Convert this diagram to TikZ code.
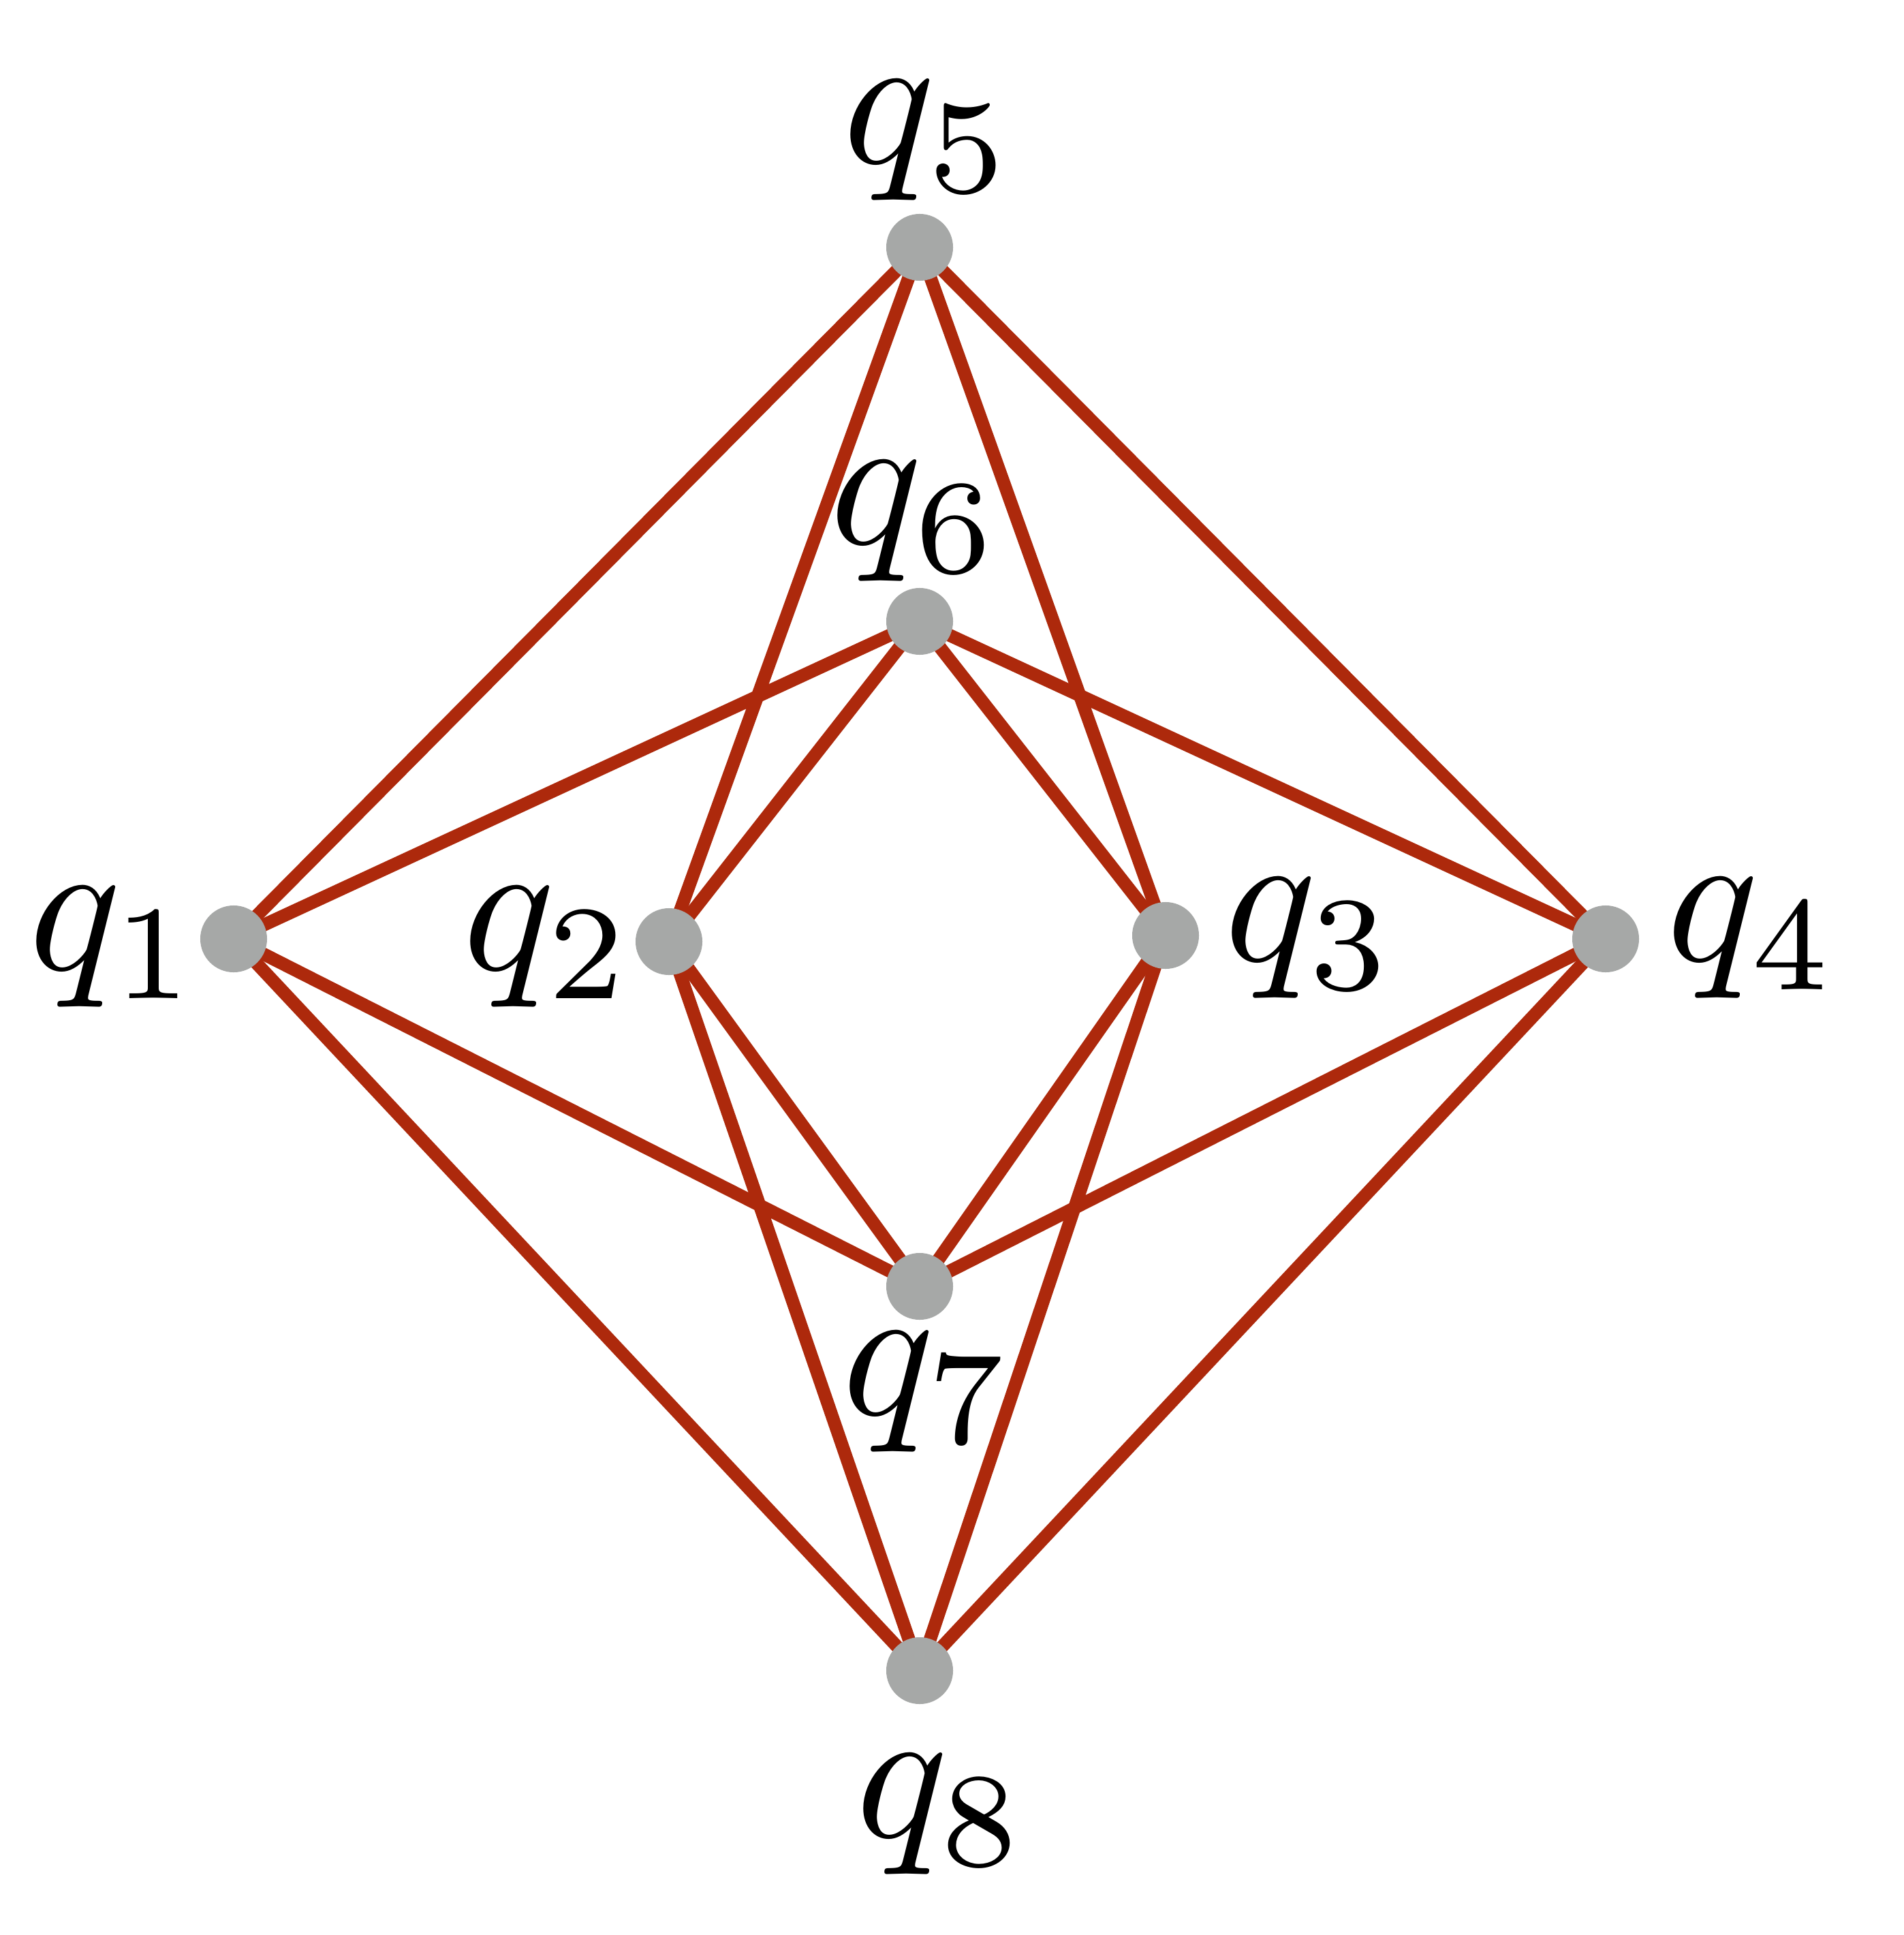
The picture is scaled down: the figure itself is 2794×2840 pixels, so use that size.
\documentclass[tikz,border=0pt]{standalone}
\usetikzlibrary{backgrounds}
\definecolor{edgered}{RGB}{173,41,12}
\definecolor{dotgray}{RGB}{166,168,167}
\begin{document}
\begin{tikzpicture}[x=0.01cm,y=-0.01cm,
  vtx/.style={circle,fill=dotgray,inner sep=0pt,minimum size=0.98cm},
  lab/.style={scale=8,inner sep=0pt,anchor=base},
  edge/.style={draw=edgered,line width=0.19cm}]
\useasboundingbox (0,0) rectangle (2794,2840);
\node[vtx] (q1) at (343,1378) {};
\node[vtx] (q2) at (982,1382) {};
\node[vtx] (q3) at (1711,1373) {};
\node[vtx] (q4) at (2357,1378) {};
\node[vtx] (q5) at (1350,363) {};
\node[vtx] (q6) at (1350,912) {};
\node[vtx] (q7) at (1350,1888) {};
\node[vtx] (q8) at (1350,2452) {};
\node[lab] (l1) at (168,1423) {$q_1$};
\node[lab] (l2) at (805,1423) {$q_2$};
\node[lab] (l3) at (1923,1410) {$q_3$};
\node[lab] (l4) at (2572,1410) {$q_4$};
\node[lab] (l5) at (1363,240) {$q_5$};
\node[lab] (l6) at (1344,798) {$q_6$};
\node[lab] (l7) at (1362,2076) {$q_7$};
\node[lab] (l8) at (1382,2696) {$q_8$};
\begin{scope}[on background layer]
\foreach \a in {q5,q6,q7,q8}
  \foreach \b in {q1,q2,q3,q4}
    \draw[edge] (\a.center) -- (\b.center);
\end{scope}
\end{tikzpicture}
\end{document}
